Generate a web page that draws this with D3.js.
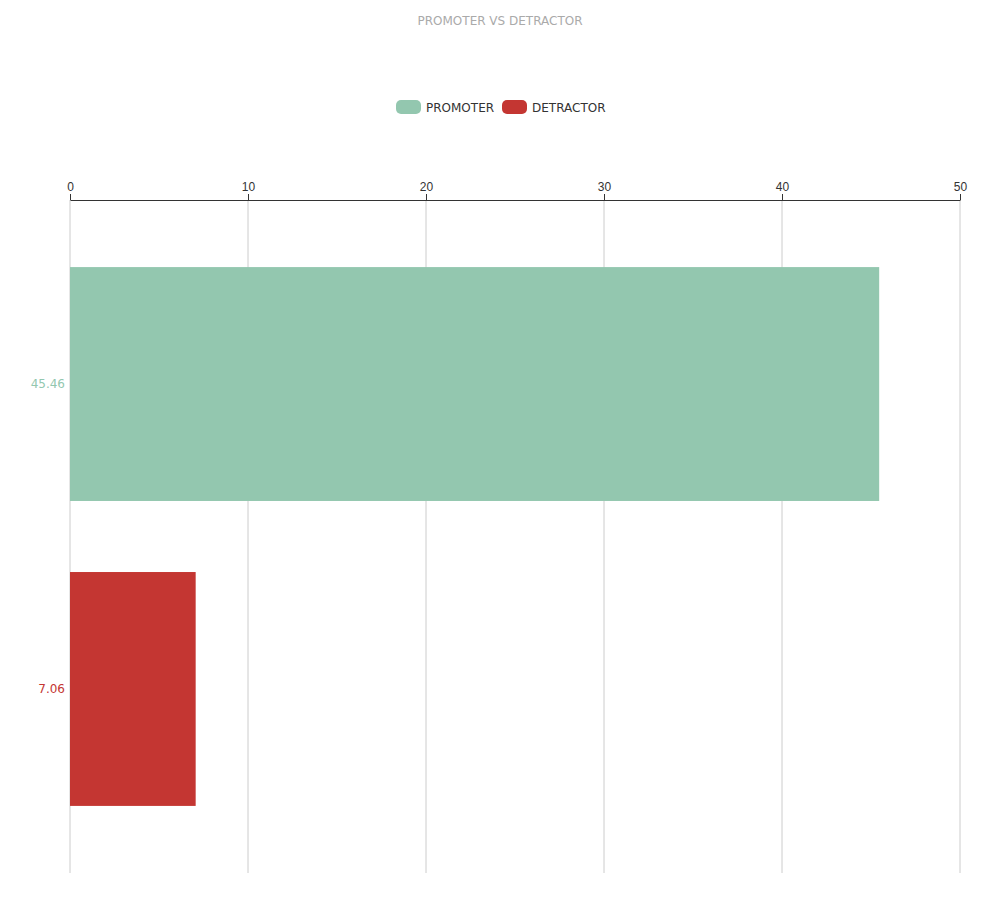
<!DOCTYPE html>
<html>
<head>
<meta charset="utf-8">
<script src="https://cdn.jsdelivr.net/npm/d3@7"></script>
<style>
body { margin: 0; background: #fff; font-family: "DejaVu Sans", sans-serif; }
</style>
</head>
<body>
<div id="chart"></div>
<script>
// chart data
const categories = ["PROMOTER", "DETRACTOR"];
const values = [45.46, 7.06];
const colors = ["#93c7af", "#c43632"];
const xTicks = [0, 10, 20, 30, 40, 50];

const width = 1000, height = 900;
const margin = { top: 200, right: 40, bottom: 27, left: 70 };

const svg = d3.select("#chart").append("svg")
    .attr("width", width)
    .attr("height", height)
    .style("font-family", "DejaVu Sans, sans-serif");

// title
svg.append("text")
    .attr("x", width / 2).attr("y", 25)
    .attr("text-anchor", "middle")
    .attr("fill", "#aaa")
    .attr("font-size", 12)
    .text("PROMOTER VS DETRACTOR");

// legend
const legendX = [396, 502];
categories.forEach((c, i) => {
    const g = svg.append("g").attr("transform", `translate(${legendX[i]},100)`);
    g.append("rect").attr("width", 25).attr("height", 14).attr("rx", 5).attr("fill", colors[i]);
    g.append("text").attr("x", 30).attr("y", 11.5).attr("font-size", 12).attr("fill", "#333").text(c);
});

const x = d3.scaleLinear().domain([0, 50]).range([margin.left, width - margin.right]);
const y = d3.scaleBand().domain(categories)
    .range([margin.top, height - margin.bottom])
    .paddingInner(0.233).paddingOuter(0.22);

// grid lines
svg.append("g").selectAll("line")
    .data(xTicks)
    .enter().append("line")
    .attr("x1", d => x(d)).attr("x2", d => x(d))
    .attr("y1", margin.top).attr("y2", height - margin.bottom)
    .attr("stroke", "#ccc").attr("stroke-width", 1);

// top axis
const axis = svg.append("g")
    .attr("transform", `translate(0,${margin.top})`)
    .call(d3.axisTop(x).tickValues(xTicks).tickSize(6).tickSizeOuter(0));
axis.select(".domain").attr("stroke", "#333");
axis.selectAll(".tick line").attr("stroke", "#333");
axis.selectAll("text").attr("font-size", 12).attr("fill", "#333");

// bars
svg.append("g").selectAll("rect")
    .data(values)
    .enter().append("rect")
    .attr("x", x(0))
    .attr("y", (d, i) => y(categories[i]))
    .attr("width", d => x(d) - x(0))
    .attr("height", y.bandwidth())
    .attr("fill", (d, i) => colors[i]);

// value labels on left
svg.append("g").selectAll("text")
    .data(values)
    .enter().append("text")
    .attr("x", margin.left - 5)
    .attr("y", (d, i) => y(categories[i]) + y.bandwidth() / 2 + 4)
    .attr("text-anchor", "end")
    .attr("font-size", 12)
    .attr("fill", (d, i) => colors[i])
    .text(d => d.toFixed(2));
</script>
</body>
</html>
